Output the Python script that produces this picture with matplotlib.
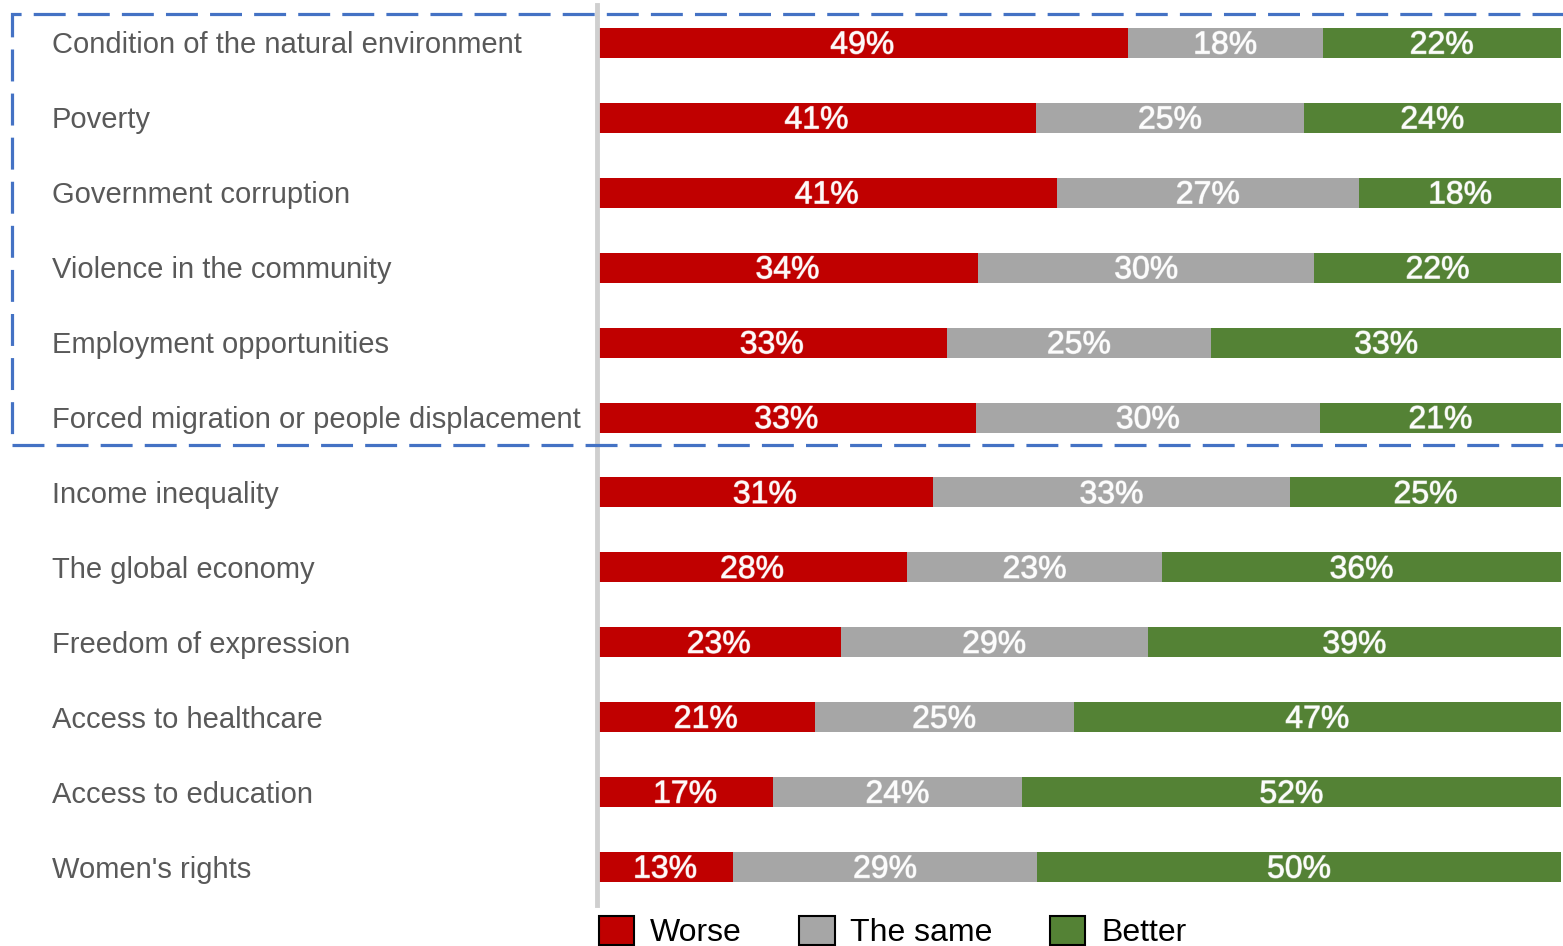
import matplotlib
matplotlib.use("Agg")
import matplotlib.pyplot as plt
import matplotlib.patheffects as pe
from matplotlib.patches import Patch, Rectangle
import numpy as np

categories = [
    "Condition of the natural environment",
    "Poverty",
    "Government corruption",
    "Violence in the community",
    "Employment opportunities",
    "Forced migration or people displacement",
    "Income inequality",
    "The global economy",
    "Freedom of expression",
    "Access to healthcare",
    "Access to education",
    "Women's rights",
]
worse = [49, 41, 41, 34, 33, 33, 31, 28, 23, 21, 17, 13]
same = [18, 25, 27, 30, 25, 30, 33, 23, 29, 25, 24, 29]
better = [22, 24, 18, 22, 33, 21, 25, 36, 39, 47, 52, 50]
series_names = ["Worse", "The same", "Better"]
colors = ["#C00000", "#A6A6A6", "#548235"]

plt.rcParams["font.family"] = ["Liberation Sans", "DejaVu Sans"]

W, H = 1563, 946
fig = plt.figure(figsize=(W / 100, H / 100), dpi=100)

# plot area in pixel terms
left_px, right_px = 597, 1561
top_px, bottom_px = 5.5, 904.5
row_px = (bottom_px - top_px) / len(categories)
ax = fig.add_axes([left_px / W, 1 - bottom_px / H,
                   (right_px - left_px) / W, (bottom_px - top_px) / H])

data = np.array([worse, same, better], dtype=float)
totals = data.sum(axis=0)
shares = data / totals  # each row spans the full width
y = np.arange(len(categories))

label_fx = [pe.withStroke(linewidth=0.9, foreground=(1, 1, 1, 0.55))]
start = np.zeros(len(categories))
for k in range(3):
    ax.barh(y, shares[k], left=start, height=0.4, color=colors[k],
            edgecolor="none", label=series_names[k])
    for i in range(len(categories)):
        ax.text(start[i] + shares[k][i] / 2, y[i] + 0.035, f"{int(data[k][i])}%",
                ha="center", va="center", color=(1, 1, 1, 0.85),
                fontsize=23, path_effects=label_fx)
    start += shares[k]

ax.set_xlim(0, 1)
ax.set_ylim(len(categories) - 0.5, -0.5)
ax.set_xticks([])
ax.set_yticks([])
for s in ["top", "right", "bottom"]:
    ax.spines[s].set_visible(False)
ax.spines["left"].set_color("#CFCFCF")
ax.spines["left"].set_linewidth(3.5)

# category labels on the left
for i, c in enumerate(categories):
    ax.text(52 / W, 1 - (top_px + row_px / 2 + 2.5 + row_px * i) / H, c,
            transform=fig.transFigure, ha="left", va="center",
            color="#595959", fontsize=21)

# dashed highlight box around the first six rows (open past the right edge)
box = Rectangle((12 / W, 1 - 445.5 / H), (1600 - 12) / W, (445.5 - 14) / H,
                transform=fig.transFigure, fill=False, edgecolor="#4472C4",
                linewidth=2.3, linestyle=(0, (10, 3.8)), clip_on=False)
fig.add_artist(box)

handles = [Patch(facecolor=colors[k], edgecolor="black", linewidth=1.5,
                 label=series_names[k]) for k in range(3)]
fig.legend(handles=handles, loc="center left",
           bbox_to_anchor=(599 / W, 14 / H), ncol=3, frameon=False,
           fontsize=23, handlelength=1.1, handleheight=1.05,
           handletextpad=0.5, columnspacing=1.8, borderpad=0,
           borderaxespad=0)

fig.savefig("out.png", dpi=100)
